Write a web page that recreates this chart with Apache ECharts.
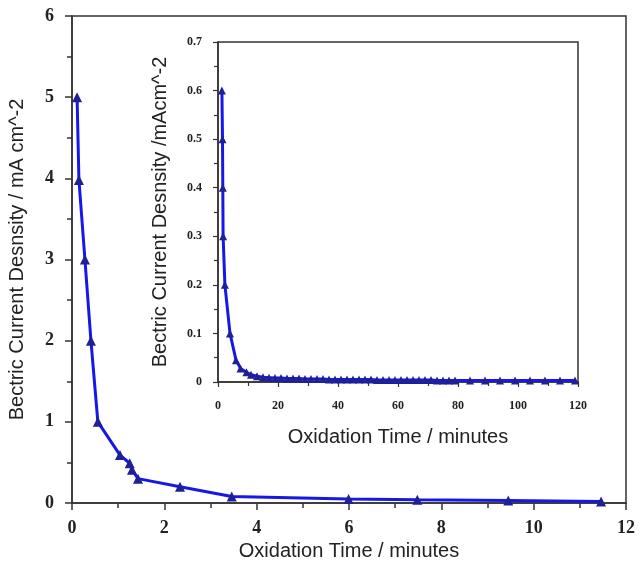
<!DOCTYPE html>
<html lang="en">
<head>
    <meta charset="UTF-8">
    <title>Oxidation current density</title>
</head>
<body style="margin:0;background:#fff">
<div id="chart" style="width:639px;height:576px"></div>
<script src="https://cdn.jsdelivr.net/npm/echarts@6/dist/echarts.min.js"></script>
<script>
    // main plot: oxidation time (min) vs current density (mA cm^-2)
    var mainTime = [0.11, 0.15, 0.28, 0.41, 0.56, 1.04, 1.25, 1.30, 1.43, 2.34, 3.46, 5.99, 7.48, 9.45, 11.46];
    var mainDensity = [5.0, 3.98, 3.0, 2.0, 1.0, 0.59, 0.49, 0.41, 0.30, 0.20, 0.08, 0.05, 0.04, 0.03, 0.02];

    // inset: full 120 minute run
    var insetTime = [1.3, 1.5, 1.6, 1.7, 2.3, 4, 6, 7.5, 9.5, 11, 13, 15, 17, 19, 21, 23, 25, 27, 29, 31, 33, 35,
        37, 39, 41, 43, 45, 47, 49, 51, 53, 55, 57, 59, 61, 63, 65, 67, 69, 71, 73, 75, 77, 79,
        84, 89, 94, 99, 104, 109, 114, 119];
    var insetDensity = [0.6, 0.5, 0.4, 0.3, 0.2, 0.1, 0.045, 0.028, 0.02, 0.015, 0.012, 0.01, 0.009, 0.008, 0.008,
        0.007, 0.007, 0.007, 0.006, 0.006, 0.006, 0.006, 0.005, 0.005, 0.005, 0.005, 0.005, 0.005, 0.005, 0.005,
        0.004, 0.004, 0.004, 0.004, 0.004, 0.004, 0.004, 0.004, 0.004, 0.004, 0.003, 0.003, 0.003, 0.003,
        0.003, 0.003, 0.003, 0.003, 0.003, 0.003, 0.003, 0.003];

    function pairs(xs, ys) {
        var out = [];
        for (var i = 0; i < xs.length; i++) out.push([xs[i], ys[i]]);
        return out;
    }

    var lineColor = '#1717e8';
    var markColor = '#1f1f96';
    var labelFont = {fontFamily: 'Liberation Serif', fontWeight: 'bold', color: '#222'};
    var titleFont = {fontFamily: 'Liberation Sans', fontSize: 20, color: '#222'};
    var axisLine = {show: true, lineStyle: {color: '#333', width: 1.5}};

    var chart = echarts.init(document.getElementById('chart'));
    var option = {
        animation: false,
        grid: [
            {left: 72, right: 13, top: 16, bottom: 73, outerBoundsMode: 'none', show: true, borderColor: '#333', borderWidth: 1.5, backgroundColor: '#fff'},
            {left: 218, right: 61, top: 42, bottom: 194, outerBoundsMode: 'none', show: true, borderColor: '#333', borderWidth: 1.5, backgroundColor: '#fff'}
        ],
        xAxis: [
            {
                gridIndex: 0, type: 'value', min: 0, max: 12, interval: 2,
                name: 'Oxidation Time / minutes', nameLocation: 'middle', nameGap: 37,
                nameTextStyle: titleFont,
                axisLine: axisLine,
                axisTick: {show: true, length: 7, lineStyle: {color: '#333', width: 1.5}},
                minorTick: {show: true, splitNumber: 2, length: 5, lineStyle: {color: '#333', width: 1.5}},
                splitLine: {show: false},
                axisLabel: Object.assign({fontSize: 18, margin: 16}, labelFont)
            },
            {
                gridIndex: 1, type: 'value', min: 0, max: 120, interval: 20,
                name: 'Oxidation Time / minutes', nameLocation: 'middle', nameGap: 45,
                nameTextStyle: titleFont,
                axisLine: axisLine,
                axisTick: {show: true, length: 5, lineStyle: {color: '#333', width: 1.2}},
                minorTick: {show: true, splitNumber: 2, length: 4, lineStyle: {color: '#333', width: 1.2}},
                splitLine: {show: false},
                axisLabel: Object.assign({fontSize: 12, margin: 18}, labelFont)
            }
        ],
        yAxis: [
            {
                gridIndex: 0, type: 'value', min: 0, max: 6, interval: 1,
                name: 'Bectric Current Desnsity / mA cm^-2', nameLocation: 'middle', nameGap: 45,
                nameTextStyle: titleFont,
                axisLine: axisLine,
                axisTick: {show: true, length: 7, lineStyle: {color: '#333', width: 1.5}},
                minorTick: {show: true, splitNumber: 2, length: 5, lineStyle: {color: '#333', width: 1.5}},
                splitLine: {show: false},
                axisLabel: Object.assign({fontSize: 18, margin: 18}, labelFont)
            },
            {
                gridIndex: 1, type: 'value', min: 0, max: 0.7, interval: 0.1,
                name: 'Bectric Current Desnsity /mAcm^-2', nameLocation: 'middle', nameGap: 48,
                nameTextStyle: titleFont,
                axisLine: axisLine,
                axisTick: {show: true, length: 5, lineStyle: {color: '#333', width: 1.2}},
                minorTick: {show: true, splitNumber: 2, length: 4, lineStyle: {color: '#333', width: 1.2}},
                splitLine: {show: false},
                axisLabel: Object.assign({fontSize: 12, margin: 16}, labelFont)
            }
        ],
        series: [
            {
                type: 'line', xAxisIndex: 0, yAxisIndex: 0,
                data: pairs(mainTime, mainDensity),
                symbol: 'triangle', symbolSize: 10,
                lineStyle: {color: lineColor, width: 3},
                itemStyle: {color: markColor, borderWidth: 0}
            },
            {
                type: 'line', xAxisIndex: 1, yAxisIndex: 1,
                data: pairs(insetTime, insetDensity),
                symbol: 'triangle', symbolSize: 8,
                lineStyle: {color: lineColor, width: 3},
                itemStyle: {color: markColor, borderWidth: 0}
            }
        ]
    };
    chart.setOption(option);
</script>
</body>
</html>
